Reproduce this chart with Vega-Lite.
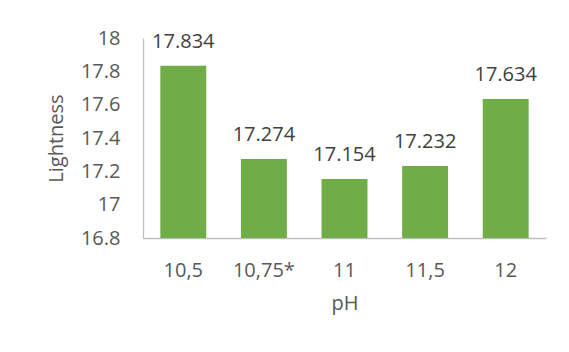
{
  "$schema": "https://vega.github.io/schema/vega-lite/v6.json",
  "width": 403,
  "height": 200,
  "autosize": "none",
  "padding": {"left": 143, "top": 38, "right": 23, "bottom": 114},
  "background": "white",
  "config": {
    "view": {"stroke": null},
    "font": "Open Sans"
  },
  "data": {
    "values": [
      {"pH": "10,5", "Lightness": 17.834},
      {"pH": "10,75*", "Lightness": 17.274},
      {"pH": "11", "Lightness": 17.154},
      {"pH": "11,5", "Lightness": 17.232},
      {"pH": "12", "Lightness": 17.634}
    ]
  },
  "encoding": {
    "x": {
      "field": "pH",
      "type": "nominal",
      "sort": null,
      "scale": {"paddingInner": 0.43, "paddingOuter": 0.215},
      "axis": {
        "labelAngle": 0,
        "labelFont": "Open Sans",
        "labelFontSize": 20,
        "labelColor": "#595959",
        "labelPadding": 22,
        "ticks": false,
        "domainColor": "#BFBFBF",
        "domainWidth": 1.3,
        "title": "pH",
        "titleFont": "Open Sans",
        "titleFontSize": 20,
        "titleFontWeight": "normal",
        "titleColor": "#595959",
        "titlePadding": 13
      }
    },
    "y": {
      "field": "Lightness",
      "type": "quantitative",
      "scale": {"domain": [16.8, 18], "zero": false, "nice": false},
      "axis": {
        "values": [16.8, 17, 17.2, 17.4, 17.6, 17.8, 18],
        "format": ".1~f",
        "grid": false,
        "ticks": false,
        "labelFont": "Open Sans",
        "labelFontSize": 20,
        "labelColor": "#595959",
        "labelPadding": 23,
        "domainColor": "#BFBFBF",
        "domainWidth": 1.3,
        "title": "Lightness",
        "titleFont": "Open Sans",
        "titleFontSize": 20,
        "titleFontWeight": "normal",
        "titleColor": "#595959",
        "titlePadding": 14
      }
    }
  },
  "layer": [
    {
      "mark": {"type": "bar", "color": "#70AD47"},
      "encoding": {"y2": {"datum": 16.8}}
    },
    {
      "mark": {
        "type": "text",
        "baseline": "alphabetic",
        "dy": -18,
        "fontSize": 20,
        "font": "Open Sans",
        "color": "#404040"
      },
      "encoding": {"text": {"field": "Lightness", "type": "quantitative", "format": ".3f"}}
    }
  ]
}
